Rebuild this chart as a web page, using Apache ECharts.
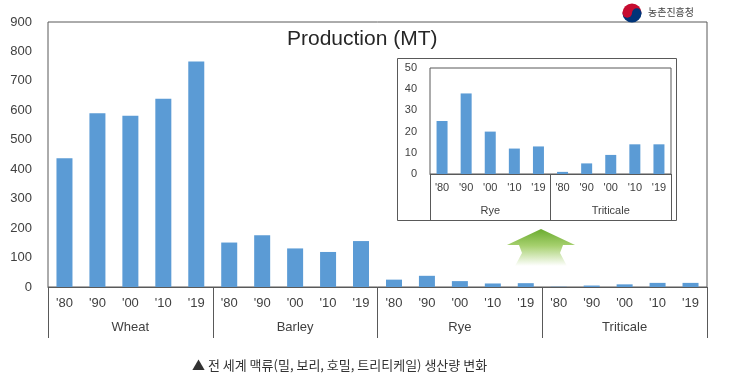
<!DOCTYPE html>
<html>
<head>
<meta charset="utf-8">
<script src="https://cdn.jsdelivr.net/npm/echarts@6/dist/echarts.min.js"></script>
<style>html,body{margin:0;padding:0;background:#fff}#c{width:730px;height:390px}</style>
</head>
<body>
<div id="c"></div>
<script>
const decades = ["'80", "'90", "'00", "'10", "'19"];
const crops = ["Wheat", "Barley", "Rye", "Triticale"];
const insetCrops = ["Rye", "Triticale"];
const wheat = [437, 590, 582, 639, 766];
const barley = [151, 176, 131, 119, 156];
const rye = [25, 38, 20, 12, 13];
const triticale = [1, 5, 9, 14, 14];
const mainTicks = [0, 100, 200, 300, 400, 500, 600, 700, 800, 900];
const insetTicks = [0, 10, 20, 30, 40, 50];
const titleText = "Production (MT)";
const captionText = "▲ 전 세계 맥류(밀, 보리, 호밀, 트리티케일) 생산량 변화";
const logoText = "농촌진흥청";

const mainCats = [].concat(...crops.map(() => decades));
const mainVals = [].concat(wheat, barley, rye, triticale);
const insetCats = [].concat(...insetCrops.map(() => decades));
const insetVals = [].concat(rye, triticale);

const FONT = "Liberation Sans";
const LINE = '#595959';
const TXT = '#404040';
const BAR = '#5B9BD5';

const chart = echarts.init(document.getElementById('c'), null, {renderer: 'canvas'});
chart.setOption({
  animation: false,
  backgroundColor: '#fff',
  textStyle: {fontFamily: FONT},
  grid: [
    {left: 48, top: 22, right: 23, bottom: 103, show: true, borderColor: LINE, borderWidth: 1, backgroundColor: 'transparent'},
    {left: 430, top: 68, right: 59, bottom: 216, show: true, borderColor: LINE, borderWidth: 1, backgroundColor: 'transparent'}
  ],
  xAxis: [
    {gridIndex: 0, type: 'category', data: mainCats,
      axisLine: {lineStyle: {color: LINE}}, axisTick: {show: false},
      axisLabel: {interval: 0, color: TXT, fontSize: 13, margin: 10, fontFamily: FONT}},
    {gridIndex: 0, type: 'category', data: crops, position: 'bottom',
      axisLine: {show: false},
      axisTick: {show: true, interval: 0, length: 51, lineStyle: {color: LINE}},
      axisLabel: {interval: 0, color: TXT, fontSize: 13, margin: 34, fontFamily: FONT}},
    {gridIndex: 1, type: 'category', data: insetCats,
      axisLine: {lineStyle: {color: LINE}}, axisTick: {show: false},
      axisLabel: {interval: 0, color: TXT, fontSize: 11, margin: 8, fontFamily: FONT}},
    {gridIndex: 1, type: 'category', data: insetCrops, position: 'bottom',
      axisLine: {show: false},
      axisTick: {show: true, interval: 0, length: 46, lineStyle: {color: LINE}},
      axisLabel: {interval: 0, color: TXT, fontSize: 11, margin: 31, fontFamily: FONT}}
  ],
  yAxis: [
    {gridIndex: 0, type: 'value', min: mainTicks[0], max: mainTicks[mainTicks.length - 1], interval: 100,
      axisLine: {show: false}, axisTick: {show: false}, splitLine: {show: false},
      axisLabel: {color: TXT, fontSize: 13, margin: 16, fontFamily: FONT}},
    {gridIndex: 1, type: 'value', min: insetTicks[0], max: insetTicks[insetTicks.length - 1], interval: 10,
      axisLine: {show: false}, axisTick: {show: false}, splitLine: {show: false},
      axisLabel: {color: TXT, fontSize: 11, margin: 13, fontFamily: FONT}}
  ],
  series: [
    {type: 'bar', xAxisIndex: 0, yAxisIndex: 0, data: mainVals, barWidth: 16, itemStyle: {color: BAR}},
    {type: 'bar', xAxisIndex: 2, yAxisIndex: 1, data: insetVals, barWidth: 11, itemStyle: {color: BAR}}
  ],
  graphic: [
    {type: 'text', left: 287, top: 29, style: {text: titleText, font: '21px "' + FONT + '"', fill: '#262626'}},
    {type: 'rect', shape: {x: 397.5, y: 58.5, width: 279, height: 162}, style: {fill: 'transparent', stroke: LINE, lineWidth: 1}},
    {type: 'polygon', shape: {points: [[541, 229], [575, 245], [563, 245], [560, 253], [567, 266], [515, 266], [522, 253], [519, 245], [507, 245]]},
      style: {fill: {type: 'linear', x: 0, y: 0, x2: 0, y2: 1, colorStops: [{offset: 0, color: '#6aab2e'}, {offset: 0.45, color: '#a6d06e'}, {offset: 1, color: 'rgba(255,255,255,1)'}]}}},
    {type: 'sector', shape: {cx: 632, cy: 13, r0: 0, r: 9.5, startAngle: Math.PI, endAngle: 2 * Math.PI}, style: {fill: '#C60C30'}},
    {type: 'sector', shape: {cx: 632, cy: 13, r0: 0, r: 9.5, startAngle: 0, endAngle: Math.PI}, style: {fill: '#003478'}},
    {type: 'circle', shape: {cx: 627.25, cy: 13, r: 4.75}, style: {fill: '#C60C30'}},
    {type: 'circle', shape: {cx: 636.75, cy: 13, r: 4.75}, style: {fill: '#003478'}},
    {type: 'text', left: 648, top: 7, style: {text: logoText, font: '10px "Noto Sans CJK KR"', fill: '#444'}},
    {type: 'text', left: 192, top: 359, style: {text: captionText, font: '13px "Noto Sans CJK KR"', fill: '#333'}}
  ]
});
</script>
</body>
</html>
